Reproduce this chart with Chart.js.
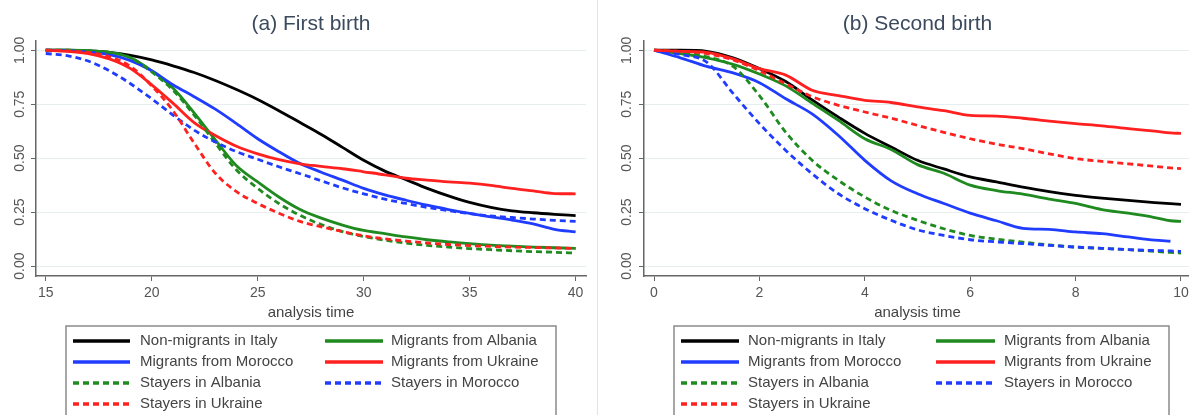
<!DOCTYPE html>
<html>
<head>
<meta charset="utf-8">
<script src="https://cdn.jsdelivr.net/npm/chart.js@4.4.0/dist/chart.umd.min.js"></script>
<style>
html, body { margin: 0; padding: 0; background: #fff; overflow: hidden; }
#wrap { position: relative; width: 1189px; height: 415px; overflow: hidden; }
#firstChart { position: absolute; left: 0; top: 0; }
#secondChart { position: absolute; left: 598px; top: 0; }
#sep { position: absolute; left: 597px; top: 0; width: 1px; height: 415px; background: #e4e4e4; }
</style>
</head>
<body>
<div id="wrap">
  <canvas id="firstChart" width="597" height="415"></canvas>
  <div id="sep"></div>
  <canvas id="secondChart" width="620" height="415"></canvas>
</div>
<script>
// legend order (row by row, two columns)
const groupLabels = ['Non-migrants in Italy', 'Migrants from Albania', 'Migrants from Morocco', 'Migrants from Ukraine',
                     'Stayers in Albania', 'Stayers in Morocco', 'Stayers in Ukraine'];
const groupColors = ['#000000', '#1f8a1f', '#1f3cff', '#ff2020', '#1f8a1f', '#1f3cff', '#ff2020'];
const groupDashed = [false, false, false, false, true, true, true];

const yTicks = [0, 0.25, 0.5, 0.75, 1];

// (a) first birth, age 15..40
const firstAge = [15,16,17,18,19,20,21,22,23,24,25,26,27,28,29,30,31,32,33,34,35,36,37,38,39,40];
const firstTicks = [15, 20, 25, 30, 35, 40];
const firstItaly   = [1,1,0.997,0.99,0.976,0.955,0.928,0.897,0.86,0.818,0.772,0.72,0.665,0.61,0.55,0.49,0.44,0.40,0.36,0.325,0.295,0.272,0.256,0.247,0.24,0.234];
const firstAlbania = [1,1,0.998,0.99,0.965,0.905,0.825,0.71,0.585,0.465,0.39,0.32,0.262,0.222,0.19,0.165,0.15,0.135,0.122,0.112,0.104,0.097,0.092,0.088,0.085,0.082];
const firstMorocco = [1,0.998,0.993,0.98,0.952,0.905,0.84,0.785,0.727,0.66,0.59,0.53,0.475,0.435,0.398,0.36,0.33,0.305,0.282,0.262,0.244,0.228,0.213,0.195,0.17,0.158];
const firstUkraine = [1,0.995,0.985,0.96,0.915,0.84,0.755,0.665,0.605,0.555,0.52,0.493,0.474,0.462,0.451,0.437,0.423,0.407,0.398,0.39,0.384,0.374,0.36,0.348,0.336,0.335];
const firstStayAlbania = [1,1,0.998,0.99,0.965,0.9,0.815,0.70,0.57,0.445,0.36,0.29,0.235,0.192,0.16,0.137,0.12,0.106,0.096,0.088,0.081,0.076,0.071,0.067,0.064,0.06];
const firstStayMorocco = [0.985,0.975,0.95,0.905,0.845,0.775,0.70,0.63,0.575,0.53,0.495,0.46,0.428,0.395,0.362,0.335,0.31,0.29,0.272,0.257,0.243,0.232,0.225,0.218,0.212,0.207];
const firstStayUkraine = [1,0.997,0.99,0.97,0.925,0.835,0.72,0.57,0.43,0.345,0.29,0.245,0.207,0.182,0.16,0.14,0.126,0.116,0.107,0.1,0.095,0.091,0.088,0.086,0.084,0.082];

// (b) second birth, years since first birth
const secondTime = [0,0.5,1,1.5,2,2.5,3,3.5,4,4.5,5,5.5,6,6.5,7,7.5,8,8.5,9,9.5,9.8,10];
const secondTicks = [0, 2, 4, 6, 8, 10];
const secondItaly   = [1,1,0.995,0.965,0.915,0.855,0.77,0.69,0.615,0.552,0.49,0.45,0.413,0.39,0.366,0.345,0.328,0.315,0.304,0.294,0.289,0.286];
const secondAlbania = [1,0.985,0.965,0.935,0.89,0.835,0.755,0.675,0.59,0.54,0.47,0.43,0.375,0.35,0.333,0.31,0.29,0.262,0.245,0.225,0.21,0.207];
const secondMorocco = [1,0.965,0.925,0.895,0.85,0.775,0.705,0.605,0.49,0.395,0.335,0.29,0.245,0.21,0.175,0.17,0.158,0.15,0.135,0.12,0.115,null];
const secondUkraine = [1,0.995,0.99,0.96,0.915,0.885,0.815,0.79,0.768,0.758,0.738,0.72,0.698,0.695,0.685,0.672,0.66,0.65,0.637,0.625,0.617,0.615];
const secondStayAlbania = [1,0.99,0.97,0.925,0.79,0.62,0.49,0.397,0.32,0.258,0.212,0.173,0.142,0.125,0.111,0.098,0.088,0.082,0.076,0.068,0.063,0.06];
const secondStayMorocco = [1,0.98,0.945,0.80,0.66,0.536,0.428,0.335,0.266,0.212,0.168,0.142,0.122,0.112,0.104,0.096,0.088,0.082,0.076,0.072,0.07,0.068];
const secondStayUkraine = [1,0.995,0.985,0.955,0.905,0.845,0.785,0.745,0.714,0.685,0.652,0.62,0.59,0.565,0.544,0.52,0.498,0.485,0.474,0.462,0.455,0.452];

const fontFamily = '"Liberation Sans", Arial, sans-serif';
Chart.defaults.font.family = fontFamily;

function makeDatasets(xs, series) {
    return series.map((vals, i) => ({
        label: groupLabels[i],
        data: xs.map((x, k) => ({ x: x, y: vals[k] })),
        borderColor: groupColors[i],
        borderDash: groupDashed[i] ? [6, 4] : [],
        borderWidth: 2.8,
        pointRadius: 0,
        cubicInterpolationMode: 'monotone',
        order: 7 - i
    }));
}

// rotated y tick labels, Stata style
const yLabelPlugin = {
    id: 'yLabels',
    afterDraw(chart, args, opts) {
        const { ctx, chartArea } = chart;
        const y = chart.scales.y;
        ctx.save();
        ctx.font = '14px ' + fontFamily;
        ctx.fillStyle = '#555';
        ctx.textAlign = 'center';
        ctx.textBaseline = 'middle';
        y.ticks.forEach(t => {
            ctx.save();
            ctx.translate(chartArea.left - opts.offset, y.getPixelForValue(t.value));
            ctx.rotate(-Math.PI / 2);
            ctx.fillText(t.value.toFixed(2), 0, 0);
            ctx.restore();
        });
        ctx.restore();
    }
};

// boxed two-column legend below the plot
const boxLegendPlugin = {
    id: 'boxLegend',
    afterDraw(chart, args, o) {
        const ctx = chart.ctx;
        ctx.save();
        ctx.strokeStyle = '#8a8a8a';
        ctx.lineWidth = 1.5;
        ctx.strokeRect(o.left, o.top, o.right - o.left, 120);
        ctx.font = '15px ' + fontFamily;
        ctx.textBaseline = 'middle';
        ctx.fillStyle = '#444';
        chart.data.datasets.forEach((ds, i) => {
            const col = o.cols[i % 2];
            const y = o.firstRow + Math.floor(i / 2) * o.rowGap;
            ctx.strokeStyle = ds.borderColor;
            ctx.lineWidth = 3.5;
            ctx.setLineDash(ds.borderDash.length ? [6, 4] : []);
            ctx.beginPath();
            ctx.moveTo(col[0], y);
            ctx.lineTo(col[1], y);
            ctx.stroke();
            ctx.setLineDash([]);
            ctx.fillText(ds.label, col[2], y);
        });
        ctx.restore();
    }
};

function makeChart(id, title, xs, series, ticks, xMin, xMax, opt) {
    return new Chart(document.getElementById(id).getContext('2d'), {
        type: 'line',
        data: { datasets: makeDatasets(xs, series) },
        plugins: [yLabelPlugin, boxLegendPlugin],
        options: {
            responsive: false,
            animation: false,
            layout: { padding: { left: 0, right: opt.padRight, top: 0, bottom: 93 } },
            plugins: {
                legend: { display: false },
                tooltip: { enabled: false },
                title: {
                    display: true, text: title, fullSize: false,
                    color: '#3c4a5e', font: { size: 21, weight: 'normal' },
                    padding: { top: 12, bottom: 4 }
                },
                yLabels: { offset: opt.labelOffset },
                boxLegend: opt.legend
            },
            scales: {
                x: {
                    type: 'linear', min: xMin, max: xMax,
                    afterBuildTicks: s => { s.ticks = ticks.map(v => ({ value: v })); },
                    afterFit: s => { s.height = 46; },
                    ticks: { color: '#555', font: { size: 14 }, padding: 4, maxRotation: 0 },
                    grid: { drawOnChartArea: false, drawTicks: true, tickLength: 5, tickColor: '#666' },
                    border: { color: '#666', width: 1.5 },
                    title: { display: true, text: 'analysis time', color: '#444', font: { size: 15 }, padding: { top: 0, bottom: 0 } }
                },
                y: {
                    type: 'linear', min: -0.046, max: 1.042,
                    afterBuildTicks: s => { s.ticks = yTicks.map(v => ({ value: v })); },
                    afterFit: s => { s.width = opt.yWidth; },
                    ticks: { display: false },
                    grid: { color: '#e6eeee', lineWidth: 1, drawTicks: true, tickLength: 5, tickColor: '#666' },
                    border: { color: '#666', width: 1.5 }
                }
            }
        }
    });
}

makeChart('firstChart', '(a) First birth', firstAge,
    [firstItaly, firstAlbania, firstMorocco, firstUkraine, firstStayAlbania, firstStayMorocco, firstStayUkraine],
    firstTicks, 14.54, 40.49,
    { padRight: 11, yWidth: 36, labelOffset: 16,
      legend: { left: 66, right: 556, top: 326, firstRow: 341, rowGap: 21, cols: [[73, 130, 140], [325, 383, 391]] } });

makeChart('secondChart', '(b) Second birth', secondTime,
    [secondItaly, secondAlbania, secondMorocco, secondUkraine, secondStayAlbania, secondStayMorocco, secondStayUkraine],
    secondTicks, -0.19, 10.19,
    { padRight: 27, yWidth: 46, labelOffset: 17,
      legend: { left: 76, right: 571, top: 326, firstRow: 341, rowGap: 21, cols: [[83, 141, 150], [338, 397, 406]] } });
</script>
</body>
</html>
